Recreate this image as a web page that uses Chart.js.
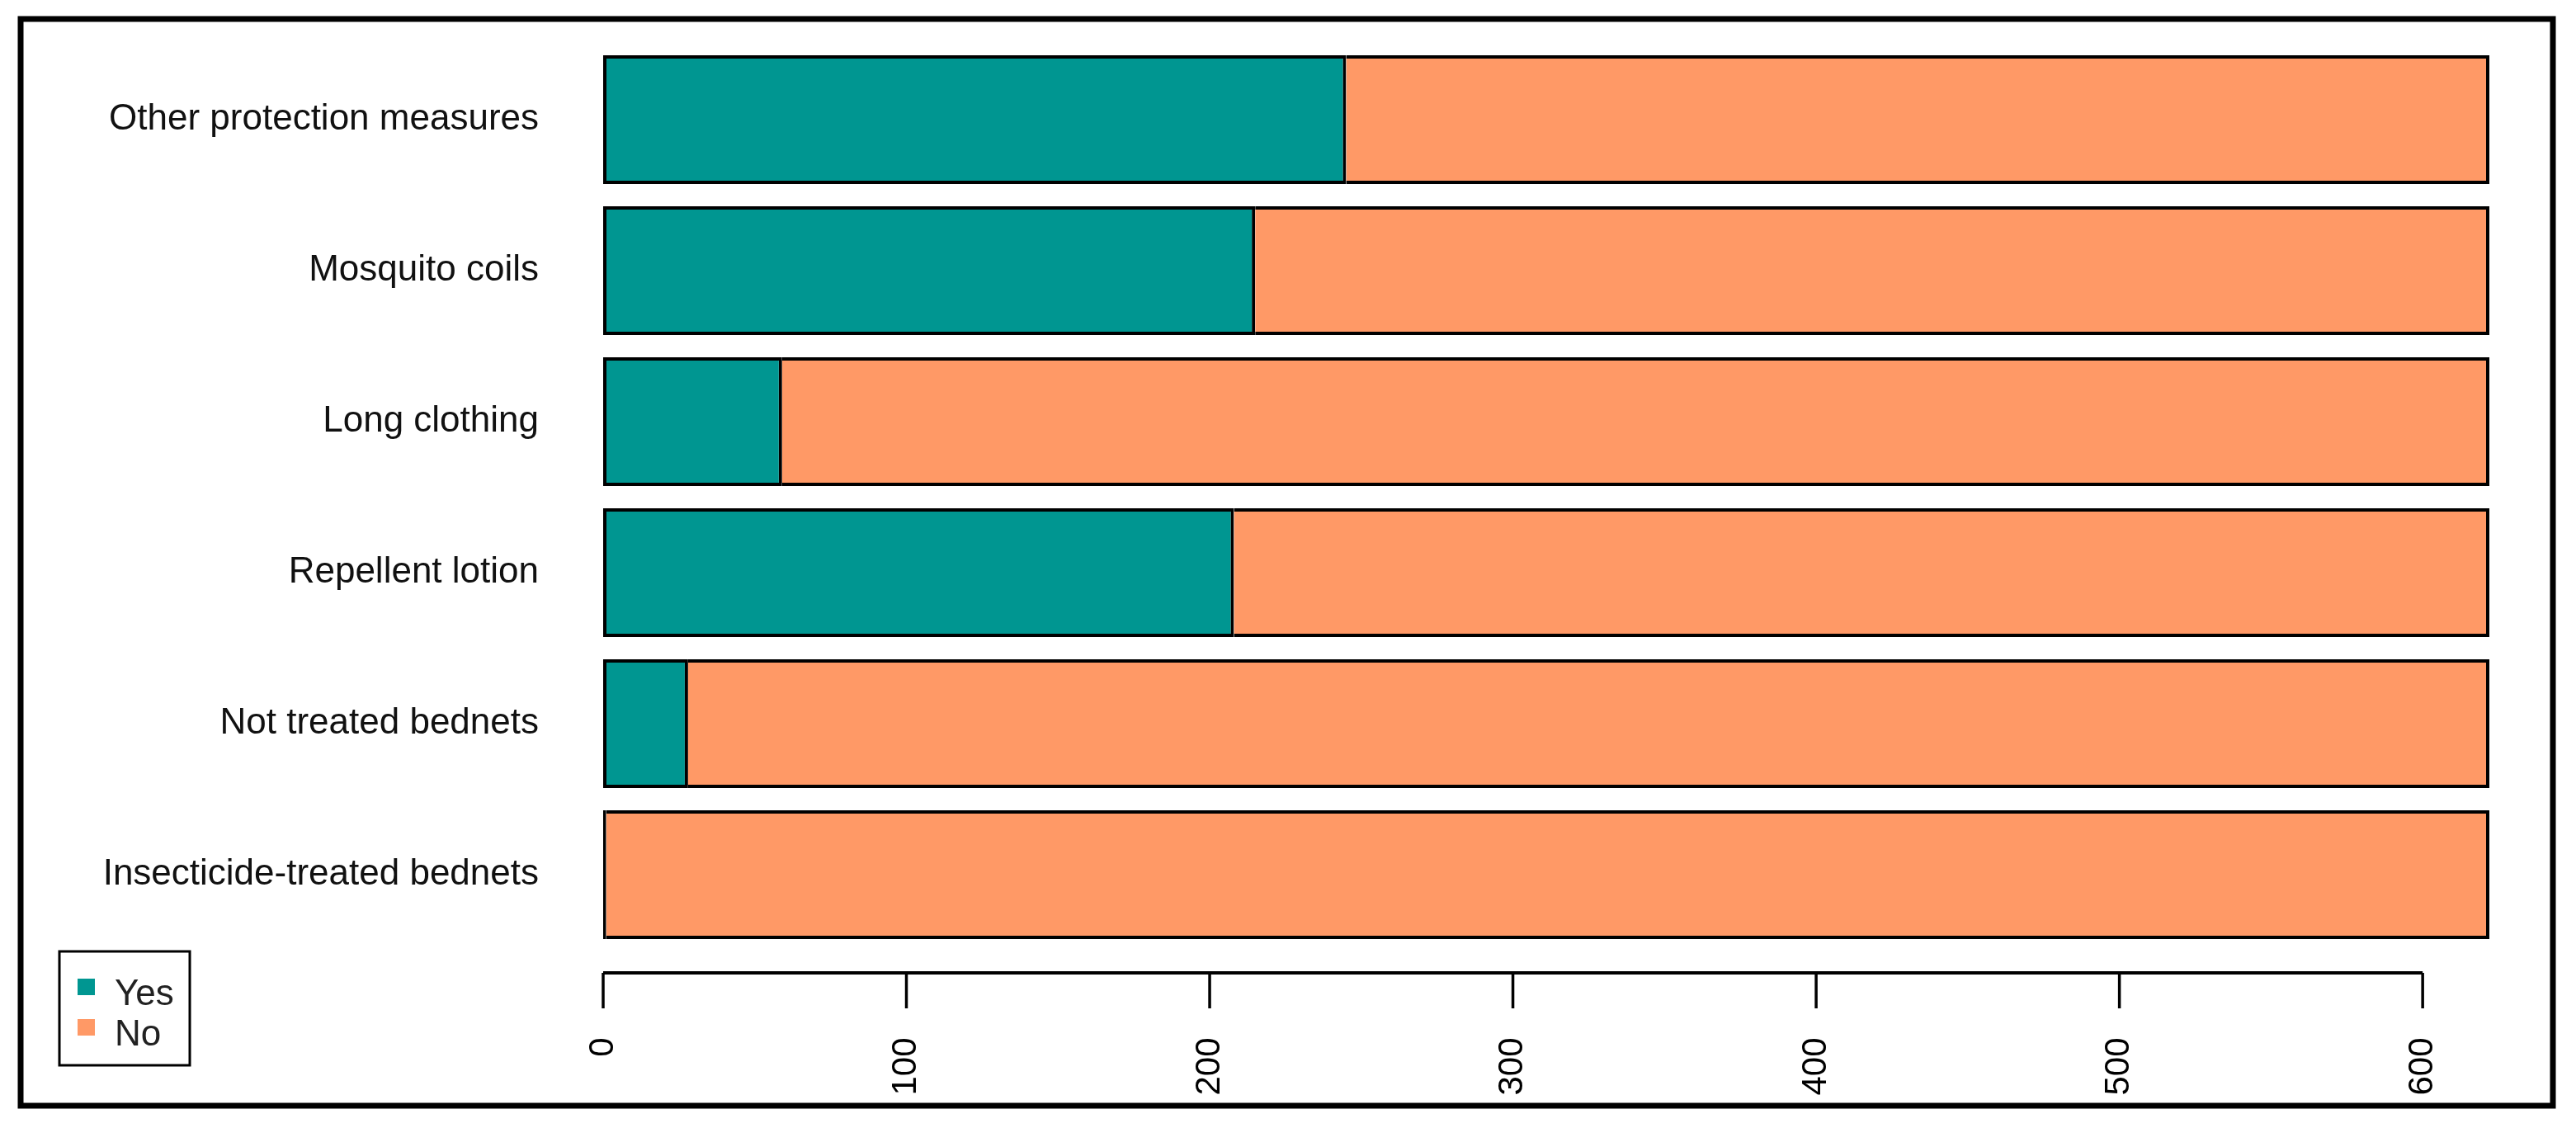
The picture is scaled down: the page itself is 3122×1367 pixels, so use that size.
<!DOCTYPE html>
<html>
<head>
<meta charset="utf-8">
<script src="https://cdn.jsdelivr.net/npm/chart.js@4.4.0/dist/chart.umd.min.js"></script>
<style>
    html, body { margin: 0; padding: 0; background: #fff; }
    #wrap { width: 3122px; height: 1367px; }
</style>
</head>
<body>
<div id="wrap"><canvas id="chart" width="3122" height="1367"></canvas></div>
<script>
const categories = [
    'Other protection measures',
    'Mosquito coils',
    'Long clothing',
    'Repellent lotion',
    'Not treated bednets',
    'Insecticide-treated bednets'
];
const yesValues = [245, 215, 59, 208, 28, 1];
const noValues = [377, 407, 563, 414, 594, 621];
const xTicks = [0, 100, 200, 300, 400, 500, 600];
const seriesNames = ['Yes', 'No'];
const seriesColors = ['#009691', '#FF9966'];

const fontFamily = "'Liberation Sans', Arial, sans-serif";

// outer box round the whole figure
const framePlugin = {
    id: 'frame',
    afterDraw(chart) {
        const ctx = chart.ctx;
        ctx.save();
        ctx.strokeStyle = '#000';
        ctx.lineWidth = 7;
        ctx.strokeRect(25, 23, 3069, 1317);
        ctx.restore();
    }
};

// R style axis: line only from first to last tick, ticks hang below
const axisPlugin = {
    id: 'rAxis',
    afterDatasetsDraw(chart) {
        const ctx = chart.ctx;
        const x = chart.scales.x;
        const y0 = chart.chartArea.bottom + 27.5;
        ctx.save();
        ctx.strokeStyle = '#000';
        ctx.lineWidth = 4;
        ctx.beginPath();
        ctx.moveTo(x.getPixelForValue(xTicks[0]), y0);
        ctx.lineTo(x.getPixelForValue(xTicks[xTicks.length - 1]), y0);
        ctx.stroke();
        ctx.lineWidth = 3.5;
        xTicks.forEach(v => {
            const px = x.getPixelForValue(v);
            ctx.beginPath();
            ctx.moveTo(px, y0);
            ctx.lineTo(px, y0 + 43);
            ctx.stroke();
        });
        ctx.restore();
    }
};

// boxed legend in the lower left corner
const legendPlugin = {
    id: 'boxLegend',
    afterDraw(chart) {
        const ctx = chart.ctx;
        ctx.save();
        ctx.strokeStyle = '#000';
        ctx.lineWidth = 3;
        ctx.strokeRect(72, 1153, 158, 138);
        ctx.font = '44px ' + fontFamily;
        ctx.textBaseline = 'alphabetic';
        ctx.textAlign = 'left';
        seriesNames.forEach((name, i) => {
            const top = 1186 + i * 49;
            ctx.fillStyle = seriesColors[i];
            ctx.fillRect(94, top, 21, 20);
            ctx.fillStyle = '#222';
            ctx.fillText(name, 139, top + 32);
        });
        ctx.restore();
    }
};

const totals = yesValues.map((v, i) => v + noValues[i]);

new Chart(document.getElementById('chart'), {
    type: 'bar',
    data: {
        labels: categories,
        datasets: [
            {
                label: seriesNames[0],
                data: yesValues,
                backgroundColor: seriesColors[0],
                borderColor: '#000',
                borderWidth: 4,
                borderSkipped: false
            },
            {
                label: seriesNames[1],
                data: noValues,
                backgroundColor: seriesColors[1],
                borderColor: '#000',
                borderWidth: 4,
                borderSkipped: 'start'
            }
        ]
    },
    options: {
        indexAxis: 'y',
        responsive: false,
        animation: false,
        layout: {
            padding: { top: 53.5, right: 105, bottom: 0, left: 0 }
        },
        datasets: {
            bar: { categoryPercentage: 1, barPercentage: 0.852 }
        },
        plugins: {
            legend: { display: false },
            tooltip: { enabled: false }
        },
        scales: {
            x: {
                stacked: true,
                min: 0,
                max: Math.max(...totals),
                grid: { display: false, drawTicks: false },
                border: { display: false },
                afterBuildTicks: scale => {
                    scale.ticks = xTicks.map(v => ({ value: v }));
                },
                afterFit: scale => { scale.height = 215.5; },
                ticks: {
                    autoSkip: false,
                    minRotation: 90,
                    maxRotation: 90,
                    padding: 106,
                    color: '#000',
                    font: { family: fontFamily, size: 42 }
                }
            },
            y: {
                stacked: true,
                grid: { display: false, drawTicks: false },
                border: { display: false },
                afterFit: scale => {
                    scale.width = 731;
                    // tick padding should not push the plot down
                    scale.paddingTop = 0;
                    scale.paddingBottom = 0;
                },
                ticks: {
                    padding: 78,
                    color: '#111',
                    font: { family: fontFamily, size: 44 }
                }
            }
        }
    },
    plugins: [axisPlugin, legendPlugin, framePlugin]
});
</script>
</body>
</html>
